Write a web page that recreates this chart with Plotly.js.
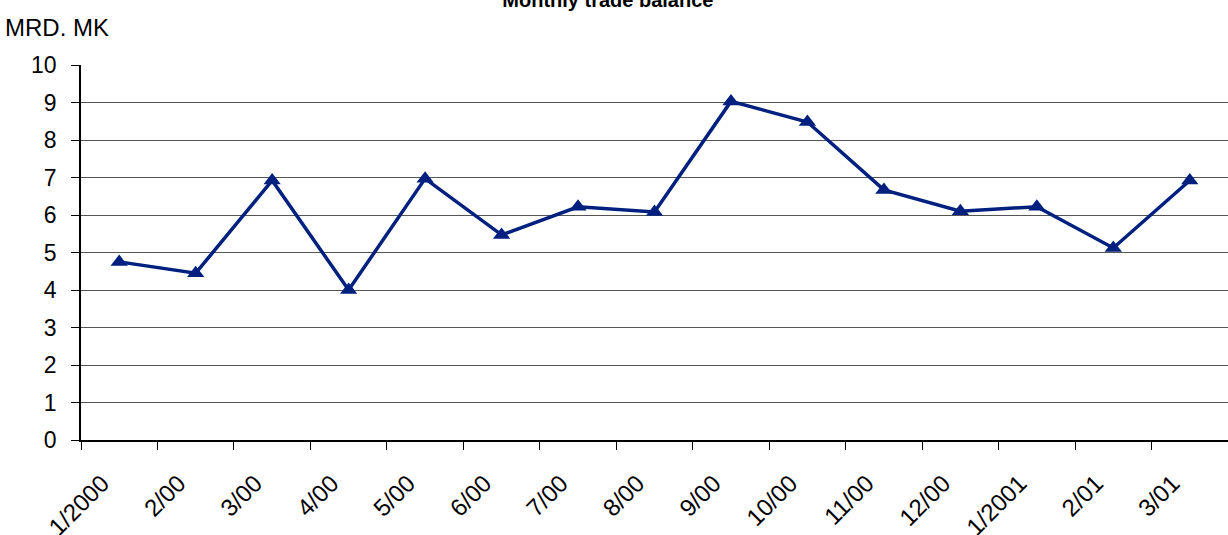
<!DOCTYPE html>
<html><head><meta charset="utf-8">
<script src="https://cdn.plot.ly/plotly-3.0.1.min.js"></script>
<style>body{margin:0;background:#fff}#c{width:1228px;height:535px}</style>
</head><body><div id="c"></div>
<script>
const months = ["1/2000","2/00","3/00","4/00","5/00","6/00","7/00","8/00","9/00","10/00","11/00","12/00","1/2001","2/01","3/01"];
const balance = [4.75,4.45,6.92,4.0,6.97,5.47,6.22,6.08,9.03,8.48,6.67,6.1,6.22,5.12,6.92];
const yTicks = [0,1,2,3,4,5,6,7,8,9,10];

Plotly.newPlot('c', [{
  x: months, y: balance, type: 'scatter', mode: 'lines+markers',
  line: {color: '#00207f', width: 3.5},
  marker: {symbol: 'triangle-up', size: 15, color: '#00207f'},
  cliponaxis: false
}], {
  width: 1228, height: 535,
  margin: {l: 81, r: 0, t: 65, b: 95},
  paper_bgcolor: '#fff', plot_bgcolor: '#fff',
  font: {family: 'Liberation Sans, Arial, sans-serif', color: '#000', size: 23},
  title: {text: '<b>Monthly trade balance</b>', font: {size: 20, color: '#000'},
          xref: 'container', yref: 'container', x: 0.495, xanchor: 'center', y: 1.0, yanchor: 'middle'},
  showlegend: false,
  xaxis: {type: 'category', range: [-0.5, 14.5], tickson: 'boundaries', ticks: 'outside', ticklen: 8, tickcolor: '#000',
          tickangle: -45, showgrid: false, showline: true, linecolor: '#000', linewidth: 1.5,
          tickfont: {size: 24}, ticklabelstandoff: 18, ticklabelshift: -17, zeroline: false},
  yaxis: {range: [0, 10], tickvals: yTicks, ticks: 'outside', ticklen: 8, tickcolor: '#000',
          showline: true, linecolor: '#000', linewidth: 1.5, showgrid: true, gridcolor: '#555', gridwidth: 1,
          zeroline: false, tickfont: {size: 23}, ticklabelstandoff: 10, fixedrange: true},
  annotations: [{text: 'MRD. MK', xref: 'paper', yref: 'paper', x: -0.068, y: 1.0, xanchor: 'left', yanchor: 'bottom',
                 yshift: 22, showarrow: false, font: {size: 24}}]
}, {displayModeBar: false});
</script></body></html>
